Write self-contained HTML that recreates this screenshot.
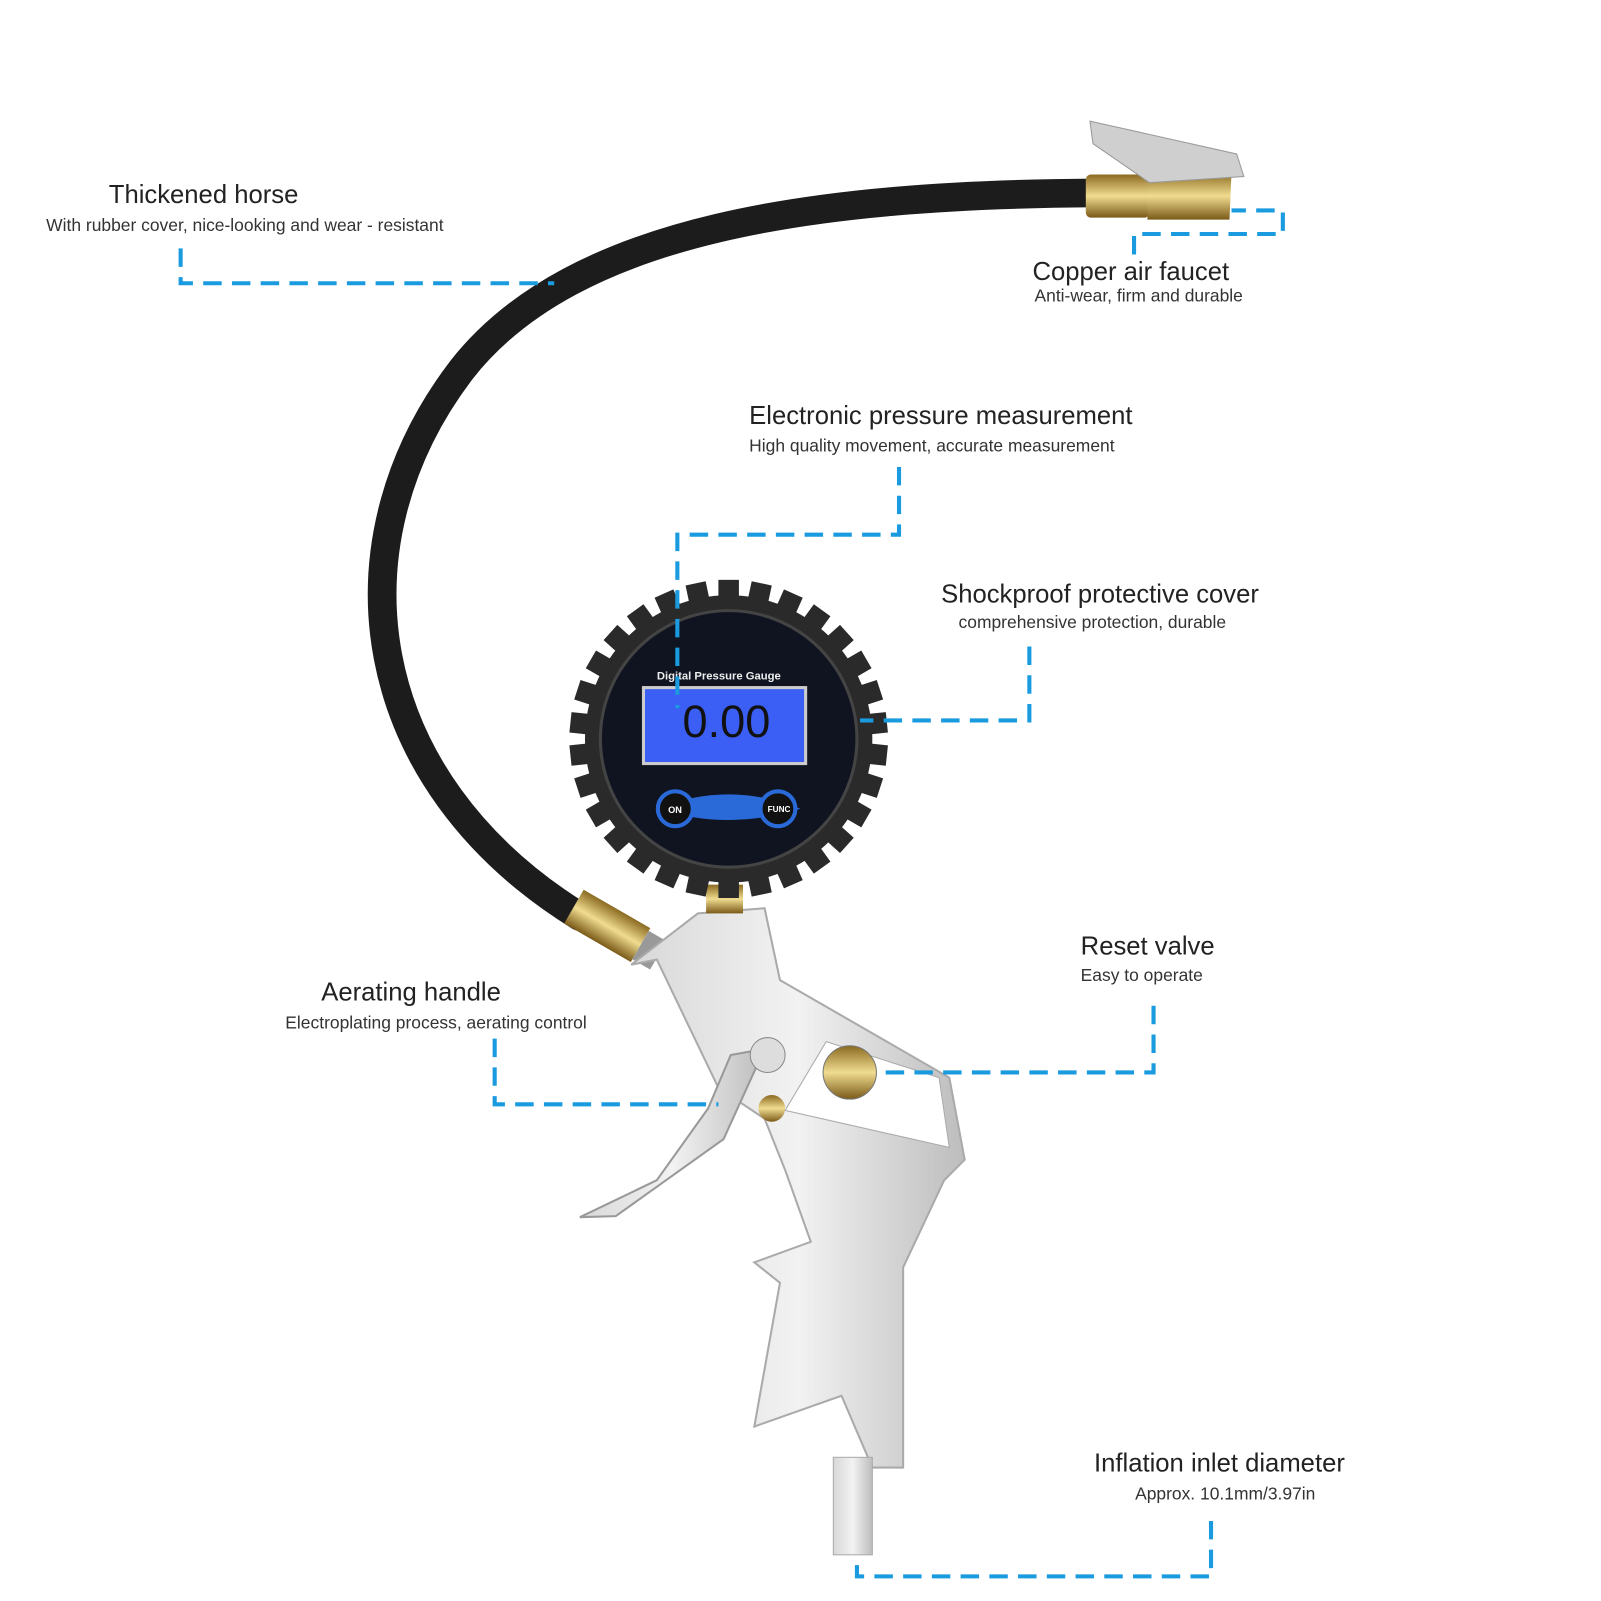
<!DOCTYPE html>
<html><head><meta charset="utf-8"><style>
html,body{margin:0;padding:0;background:#fff;}
svg{display:block;}
text{font-family:"Liberation Sans",sans-serif;fill:#222;}
.t{font-size:25px;}
.s{font-size:17px;fill:#333;}
.d{fill:none;stroke:#1a9be0;stroke-width:4;stroke-dasharray:18 10;}
</style></head><body>
<svg width="1601" height="1601" viewBox="0 0 1560 1560" xmlns="http://www.w3.org/2000/svg">
<rect width="1560" height="1560" fill="#fff"/>
<defs>
<linearGradient id="met" x1="0" y1="0" x2="1" y2="0">
<stop offset="0" stop-color="#d8d8d8"/><stop offset="0.5" stop-color="#f2f2f2"/><stop offset="1" stop-color="#bdbdbd"/></linearGradient>
<linearGradient id="brass" x1="0" y1="0" x2="0" y2="1">
<stop offset="0" stop-color="#8a6a20"/><stop offset="0.5" stop-color="#f0dc90"/><stop offset="1" stop-color="#7a5a18"/></linearGradient>
</defs>

<!-- hose -->
<path d="M1065,188 C800,190 560,220 450,360 C320,530 350,760 565,893" fill="none" stroke="#1c1c1c" stroke-width="28" stroke-linecap="round"/>

<!-- faucet -->
<rect x="1058" y="170" width="62" height="42" rx="5" fill="url(#brass)"/>
<path d="M1118,172 L1200,168 L1198,214 L1118,214 Z" fill="url(#brass)"/>
<path d="M1062,118 L1205,150 L1212,172 L1120,178 L1065,140 Z" fill="#cfcfcf" stroke="#999"/>

<!-- hose end fitting -->
<g transform="rotate(30 590 900)"><rect x="555" y="882" width="75" height="38" fill="url(#brass)"/><rect x="630" y="885" width="20" height="32" fill="#999"/></g>

<!-- gun body -->
<path d="M615,940 L680,890 L745,885 L760,955 L925,1050 L940,1130 L920,1150 L880,1235 L880,1430 L850,1430 L820,1360 L735,1390 L760,1250 L735,1230 L790,1210 L765,1140 L745,1090 L700,1060 L640,935 Z" fill="url(#met)" stroke="#aaa" stroke-width="2"/>
<path d="M805,1015 L915,1050 L925,1118 L765,1082 Z" fill="#fff" stroke="#aaa"/>
<rect x="812" y="1420" width="38" height="95" fill="url(#met)" stroke="#aaa"/>
<!-- trigger -->
<path d="M712,1028 L745,1022 L705,1110 L600,1185 L565,1186 L640,1150 L690,1080 Z" fill="url(#met)" stroke="#999" stroke-width="2"/>
<circle cx="748" cy="1028" r="17" fill="#ddd" stroke="#888"/>
<circle cx="828" cy="1045" r="26" fill="url(#brass)" stroke="#777"/>
<circle cx="752" cy="1080" r="13" fill="url(#brass)"/>
<rect x="688" y="862" width="36" height="28" fill="url(#brass)"/>

<!-- gauge -->
<g transform="translate(710,720)">
<g fill="#2a2a2a">
<circle r="140"/>
<g id="teeth">
<rect x="-10" y="-155" width="20" height="30"/>
</g>
<use href="#teeth" transform="rotate(12)"/><use href="#teeth" transform="rotate(24)"/><use href="#teeth" transform="rotate(36)"/><use href="#teeth" transform="rotate(48)"/><use href="#teeth" transform="rotate(60)"/><use href="#teeth" transform="rotate(72)"/><use href="#teeth" transform="rotate(84)"/><use href="#teeth" transform="rotate(96)"/><use href="#teeth" transform="rotate(108)"/><use href="#teeth" transform="rotate(120)"/><use href="#teeth" transform="rotate(132)"/><use href="#teeth" transform="rotate(144)"/><use href="#teeth" transform="rotate(156)"/><use href="#teeth" transform="rotate(168)"/><use href="#teeth" transform="rotate(180)"/><use href="#teeth" transform="rotate(192)"/><use href="#teeth" transform="rotate(204)"/><use href="#teeth" transform="rotate(216)"/><use href="#teeth" transform="rotate(228)"/><use href="#teeth" transform="rotate(240)"/><use href="#teeth" transform="rotate(252)"/><use href="#teeth" transform="rotate(264)"/><use href="#teeth" transform="rotate(276)"/><use href="#teeth" transform="rotate(288)"/><use href="#teeth" transform="rotate(300)"/><use href="#teeth" transform="rotate(312)"/><use href="#teeth" transform="rotate(324)"/><use href="#teeth" transform="rotate(336)"/><use href="#teeth" transform="rotate(348)"/>
</g>
<circle r="125" fill="#0f1420" stroke="#444" stroke-width="3"/>
<rect x="-83" y="-50" width="158" height="74" fill="#3b5ff5" stroke="#ccc" stroke-width="3"/>
<text x="-45" y="-2" style="font-size:44px;fill:#111;font-family:'Liberation Sans',sans-serif">0.00</text>
<text x="-70" y="-58" style="font-size:11px;fill:#eee;font-weight:bold">Digital Pressure Gauge</text>
<path d="M-70,68 Q0,40 70,68 Q0,90 -70,68" fill="#2a6ad8"/>
<circle cx="-52" cy="68" r="17" fill="#111" stroke="#2a6ad8" stroke-width="4"/>
<circle cx="48" cy="68" r="17" fill="#111" stroke="#2a6ad8" stroke-width="4"/>
<text x="-59" y="72" style="font-size:9px;fill:#fff;font-weight:bold">ON</text>
<text x="38" y="71" style="font-size:8px;fill:#fff;font-weight:bold">FUNC</text>
</g>

<!-- labels -->
<text class="t" x="106" y="198">Thickened horse</text>
<text class="s" x="45" y="225">With rubber cover, nice-looking and wear - resistant</text>
<path class="d" d="M176,242 V276 H540"/>

<text class="t" x="1006" y="273">Copper air faucet</text>
<text class="s" x="1008" y="294">Anti-wear, firm and durable</text>
<path class="d" d="M1105,248 V228 H1250 V205 H1200"/>

<text class="t" x="730" y="413">Electronic pressure measurement</text>
<text class="s" x="730" y="440">High quality movement, accurate measurement</text>
<path class="d" d="M876,455 V521 H660 V690"/>

<text class="t" x="917" y="587">Shockproof protective cover</text>
<text class="s" x="934" y="612">comprehensive protection, durable</text>
<path class="d" d="M1003,630 V702 H838"/>

<text class="t" x="1053" y="930">Reset valve</text>
<text class="s" x="1053" y="956">Easy to operate</text>
<path class="d" d="M1124,980 V1045 H858"/>

<text class="t" x="313" y="975">Aerating handle</text>
<text class="s" x="278" y="1002">Electroplating process, aerating control</text>
<path class="d" d="M482,1012 V1076 H700"/>

<text class="t" x="1066" y="1434">Inflation inlet diameter</text>
<text class="s" x="1106" y="1461">Approx. 10.1mm/3.97in</text>
<path class="d" d="M1180,1482 V1536 H835 V1518"/>
</svg>
</body></html>
